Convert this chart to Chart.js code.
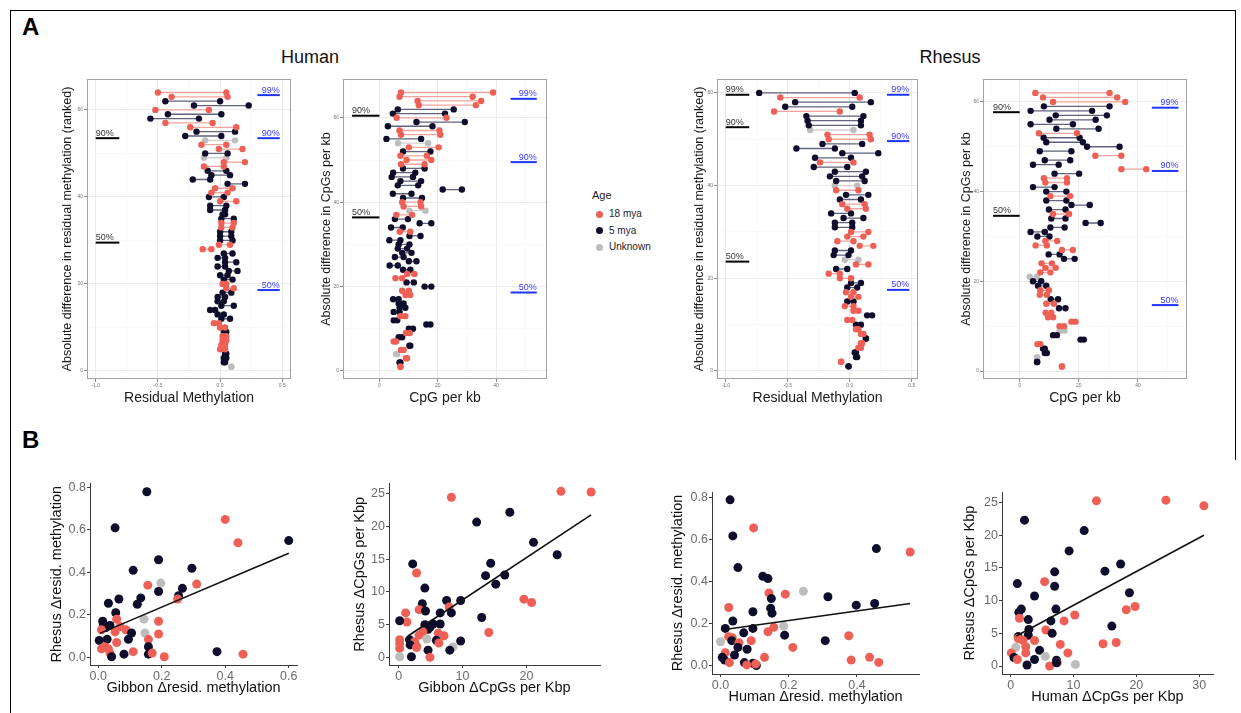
<!DOCTYPE html>
<html>
<head>
<meta charset="utf-8">
<script src="https://cdn.jsdelivr.net/npm/chart.js@4.4.1/dist/chart.umd.min.js"></script>
<style>
  body { margin: 0; background: #fff; font-family: "Liberation Sans", Arial, sans-serif; }
  #page { position: relative; width: 1241px; height: 713px; overflow: hidden; }
  canvas { position: absolute; }
  .frame { position: absolute; left: 10px; top: 10px; width: 1224px; height: 760px; border-top: 1.5px solid #000; border-left: 1.5px solid #000; }
  .frame-r { position: absolute; left: 1235px; top: 10px; width: 0; height: 450px; border-left: 1.5px solid #000; }
  .tag { position: absolute; font-weight: bold; font-size: 24px; line-height: 24px; }
  .head { position: absolute; font-size: 18px; line-height: 18px; transform: translateX(-50%); color: #111; }
  #legend { position: absolute; left: 592px; top: 188px; color: #222; }
  #legend .lt { font-size: 11px; line-height: 14px; margin-bottom: 4px; }
  #legend .li { font-size: 10px; height: 16.5px; line-height: 16.5px; display: flex; align-items: center; }
  #legend .dot { display: inline-block; width: 7px; height: 7px; border-radius: 50%; margin: 0 6px 0 4px; }
</style>
</head>
<body>
<div id="page">
  <div class="frame"></div>
  <div class="frame-r"></div>
  <div class="tag" style="left:22px;top:15px">A</div>
  <div class="tag" style="left:22px;top:428px">B</div>
  <div class="head" style="left:310px;top:48px">Human</div>
  <div class="head" style="left:950px;top:48px">Rhesus</div>
  <div id="legend"></div>

  <canvas id="a1" width="245" height="342" style="left:55px;top:70px"></canvas>
  <canvas id="a2" width="244" height="342" style="left:312px;top:70px"></canvas>
  <canvas id="a3" width="242" height="342" style="left:685px;top:70px"></canvas>
  <canvas id="a4" width="244" height="342" style="left:952px;top:70px"></canvas>

  <canvas id="b1" width="270" height="225" style="left:35px;top:475px"></canvas>
  <canvas id="b2" width="280" height="225" style="left:330px;top:475px"></canvas>
  <canvas id="b3" width="280" height="233" style="left:650px;top:480px"></canvas>
  <canvas id="b4" width="295" height="233" style="left:940px;top:480px"></canvas>
</div>
<script>
// age groups: 0 = 18 mya, 1 = 5 mya, 2 = Unknown
const ageNames = ['18 mya', '5 mya', 'Unknown'];
const ageDot = ['#ee6055', '#0e0e2c', '#bdbdbd'];
const ageBar = ['#f3a39b', '#5f637c', '#d2d2d2'];

// ---- Panel A: ranked pairs, rank 1 = bottom row ----
// Human, residual methylation
const humMethLo = [0.09,0.03,0.03,0.04,0.00,0.01,0.02,0.02,0.03,0.00,
  -0.05,0.01,-0.02,-0.08,0.01,-0.02,-0.02,0.02,0.05,0.02,
  0.03,0.00,0.07,-0.02,0.04,-0.02,0.03,-0.14,-0.01,0.00,
  0.00,0.00,0.01,0.01,0.01,0.02,-0.08,-0.08,0.00,-0.09,
  -0.07,-0.04,0.06,-0.22,-0.07,-0.10,-0.13,0.03,-0.13,-0.12,
  -0.01,-0.15,-0.12,-0.28,-0.19,-0.24,-0.44,-0.56,-0.42,-0.52,
  -0.21,-0.44,-0.39,-0.50];
const humMethHi = [0.09,0.04,0.05,0.05,0.04,0.04,0.05,0.05,0.05,0.04,
  -0.01,0.08,0.03,-0.04,0.11,0.03,0.04,0.09,0.11,0.05,
  0.10,0.06,0.14,0.04,0.13,0.04,0.10,-0.07,0.08,0.10,
  0.09,0.09,0.10,0.11,0.11,0.04,0.04,0.05,0.13,0.03,
  0.06,0.10,0.20,-0.08,0.08,0.05,0.03,0.20,0.05,0.06,
  0.18,0.05,0.12,0.01,0.12,0.13,-0.06,-0.17,0.01,-0.09,
  0.23,0.00,0.06,0.05];
const humMethAge = [2,1,1,1,0,0,0,0,1,0, 0,1,1,1,1,1,1,1,0,0,
  1,1,1,1,1,1,1,0,0,1, 1,1,0,0,1,1,1,1,0,1,
  0,0,1,1,1,1,0,0,2,1, 0,0,2,1,1,0,0,1,1,0, 1,1,0,0];

// Human, CpG per kb
const humCpgLo = [7.2,6.9,9.1,5.7,7.4,10.3,4.9,6.6,9.1,10.1,
  16.1,4.9,7.2,4.9,6.9,6.6,4.7,8.9,7.8,15.5,
  9.3,5.5,9.5,8.1,3.5,10.1,5.3,7.8,6.3,6.6,
  3.4,10.3,7.0,4.0,13.8,5.3,5.8,10.3,8.3,7.8,
  8.1,4.6,21.7,6.3,7.2,4.2,4.7,8.1,7.4,9.3,
  7.2,8.1,10.1,6.4,2.4,7.4,6.9,2.9,12.7,5.9,
  4.6,6.3,13.5,13.1,6.9,7.4];
const humCpgHi = [7.2,7.2,9.5,6.1,8.3,10.6,5.7,7.8,10.4,11.5,
  17.5,6.1,8.9,6.9,8.9,8.3,6.6,10.6,10.1,17.8,
  11.8,7.8,12.0,10.6,6.3,12.7,8.3,11.0,9.5,10.3,
  7.2,14.1,10.6,8.0,17.8,9.8,11.2,15.8,14.3,14.1,
  14.6,11.0,28.3,13.3,14.3,11.5,12.3,15.5,15.5,17.8,
  16.3,17.5,20.3,16.7,14.3,20.9,20.6,18.2,29.3,23.0,
  22.5,25.5,33.1,34.9,32.0,39.0];
const humCpgAge = [0,1,0,2,0,1,0,1,0,1, 1,1,0,1,1,1,1,0,0,1,
  1,0,0,1,1,1,1,1,1,1, 1,1,0,1,1,1,0,2,0,0,
  1,1,1,1,1,1,1,1,0,0, 0,1,0,2,1,0,0,1,1,0, 1,1,0,0,0,0];

// Rhesus, residual methylation
const rheMethLo = [-0.01,-0.07,0.05,0.04,0.07,0.09,0.13,0.09,0.05,0.05,
  -0.02,0.14,0.03,-0.04,-0.02,0.01,-0.03,-0.02,0.01,-0.08,
  -0.17,-0.11,0.05,-0.04,-0.13,-0.12,0.08,-0.10,-0.02,0.01,
  -0.12,-0.12,-0.05,-0.15,-0.02,-0.06,-0.08,-0.03,-0.11,-0.12,
  -0.11,-0.16,-0.12,-0.29,-0.24,-0.28,-0.06,-0.43,-0.22,-0.17,
  -0.18,-0.32,-0.33,-0.34,-0.35,-0.61,-0.52,-0.44,-0.56,-0.73];
const rheMethHi = [-0.01,-0.07,0.06,0.05,0.09,0.10,0.13,0.11,0.07,0.09,
  0.02,0.18,0.07,0.03,0.03,0.07,0.03,0.06,0.09,0.01,
  -0.08,-0.02,0.15,0.07,-0.01,0.01,0.19,0.03,0.11,0.15,
  0.02,0.02,0.11,0.01,0.13,0.12,0.09,0.15,0.07,0.06,
  0.12,0.10,0.13,-0.02,0.03,0.01,0.23,-0.12,0.10,0.17,
  0.16,0.03,0.09,0.09,0.11,-0.08,0.02,0.17,0.08,0.04];
const rheMethAge = [1,0,1,1,0,0,1,0,0,1, 0,1,0,0,1,0,0,1,1,0,
  0,1,0,2,1,1,0,0,0,0, 1,1,1,1,0,0,1,1,0,2,
  1,1,1,1,0,1,1,1,1,0, 0,2,1,1,1,0,1,1,0,1];

// Rhesus, CpG per kb
const rheCpgLo = [14.3,5.9,5.9,8.5,7.9,6.0,20.6,11.3,13.5,13.5,
  17.5,9.6,8.8,13.3,9.0,10.5,6.8,7.0,6.2,4.5,
  3.4,7.0,8.7,7.4,15.0,9.8,14.3,5.4,8.7,6.0,
  3.7,10.4,22.3,10.7,11.3,9.9,17.5,9.0,10.4,9.0,
  4.5,8.7,8.2,11.8,34.4,4.5,8.5,25.6,6.8,22.8,
  9.0,8.1,6.5,12.4,3.7,10.1,12.2,3.7,8.2,11.3,
  7.9,5.3];
const rheCpgHi = [14.3,5.9,5.9,9.2,8.5,7.0,21.7,12.6,15.2,15.0,
  18.9,11.3,10.7,15.5,11.6,13.0,9.2,9.9,9.0,7.3,
  5.9,10.4,12.2,10.9,18.6,13.5,18.0,9.2,12.7,10.1,
  8.5,15.2,27.4,15.5,16.7,15.5,23.7,15.8,17.1,15.8,
  11.8,16.0,16.0,20.1,42.8,13.2,17.1,34.4,17.5,33.8,
  21.4,20.3,19.4,26.7,18.0,25.7,29.5,24.5,30.4,35.7,
  33.0,30.4];
const rheCpgAge = [0,1,2,1,1,0,1,1,2,0, 0,0,0,1,0,1,0,0,1,1,
  2,0,0,0,1,1,0,0,0,1, 1,1,1,1,0,1,1,1,0,1,
  1,0,0,1,0,1,1,0,1,1, 1,1,0,1,1,1,1,1,1,0, 0,0];

// percentile guide marks (label, rank)
const humMethBlackPct = ['90%', '50%'], humMethBlackY = [53.5, 29.5];
const humMethBluePct = ['99%', '90%', '50%'], humMethBlueY = [63.4, 53.5, 18.6];
const humCpgBlackPct = ['90%', '50%'], humCpgBlackY = [60.5, 36.4];
const humCpgBluePct = ['99%', '90%', '50%'], humCpgBlueY = [64.5, 49.5, 18.6];
const rheMethBlackPct = ['99%', '90%', '50%'], rheMethBlackY = [59.6, 52.6, 23.6];
const rheMethBluePct = ['99%', '90%', '50%'], rheMethBlueY = [59.6, 49.6, 17.5];
const rheCpgBlackPct = ['90%', '50%'], rheCpgBlackY = [57.7, 34.6];
const rheCpgBluePct = ['99%', '90%', '50%'], rheCpgBlueY = [58.7, 44.6, 14.7];
const methBlackSpan = [-1.0, -0.81], methBlueSpan = [0.30, 0.48];
const cpgBlackSpan = [-9.4, 0], cpgBlueSpan = [45, 54];

const methMajor = [-1.0, -0.5, 0.0, 0.5], methMinor = [-0.75, -0.25, 0.25];
const cpgMajor = [0, 20, 40], cpgMinor = [-10, 10, 30, 50];
const rankMajor = [0, 20, 40, 60], rankMinor = [10, 30, 50];

// ---- Panel B: pairwise differences ----
const b1x = [0.153,0.053,0.40,0.44,0.60,0.19,0.295,0.11,0.156,0.197,0.31,0.265,0.134,0.065,0.19,0.253,0.25,0.123,0.032,0.055,
  0.058,0.144,0.19,0.014,0.016,0.024,0.01,0.037,0.069,0.087,0.053,0.105,0.147,0.19,0.158,0.095,0.003,0.028,0.058,0.02,
  0.032,0.158,0.110,0.374,0.158,0.17,0.081,0.037,0.042,0.208,0.456,0.01];
const b1y = [0.78,0.61,0.65,0.54,0.55,0.46,0.42,0.41,0.34,0.35,0.345,0.325,0.28,0.275,0.31,0.29,0.275,0.25,0.255,0.21,
  0.18,0.18,0.17,0.17,0.15,0.14,0.13,0.15,0.145,0.13,0.12,0.115,0.115,0.11,0.085,0.085,0.08,0.085,0.07,0.05,
  0.04,0.05,0.027,0.027,0.015,0.02,0.015,0.02,0.003,0.003,0.015,0.04];
const b1age = [1,1,0,0,1,1,1,1,0,2,0,1,1,1,1,1,0,1,1,1,0,2,0,1,1,1,0,1,0,0,0,1,2,0,0,1,1,1,0,0,0,1,0,1,1,0,1,0,1,0,0,0];
const b1fitX = [0.005, 0.60], b1fitY = [0.113, 0.49];

const b2x = [8.25,25.4,30.1,17.4,12.2,21.1,24.8,2.2,14.4,2.8, 13.6,16.6,15.2,4.1,7.5,9.7,3.7,19.6,20.8,7.9,
  13.0,3.2,4.2,6.5,8.25,1.1,1.3,0.16,4.1,5.4, 6.5,4.6,4.9,3.8,14.1,6.2,7.1,3.2,1.7,4.4,
  0.16,2.5,5.9,6.3,9.7,0.16,2.8,0.16,1.8,8.5, 8.0,4.6,2.0,4.9,0.16,2.8];
const b2y = [24.5,25.4,25.3,22.2,20.7,17.6,15.7,14.3,14.4,12.9, 12.5,12.6,11.2,10.6,8.7,8.7,8.2,8.9,8.4,7.7,
  6.1,7.3,7.1,6.8,6.8,6.8,5.4,5.6,5.0,5.1, 5.1,4.3,4.6,3.9,3.8,3.7,3.3,3.4,2.7,2.8,
  2.7,2.4,2.6,2.2,2.5,2.1,1.7,1.4,1.9,1.6, 1.1,1.1,0.1,0.0,0.1,1.5];
const b2age = [0,0,0,1,1,1,1,1,1,0, 1,1,1,1,1,1,1,0,0,0, 1,0,1,1,1,0,0,1,1,1,
  1,1,1,0,0,0,0,0,1,2, 0,0,1,0,1,0,0,0,1,2, 1,1,1,0,2,0];
const b2fitX = [1.46, 30.1], b2fitY = [3.27, 21.8];

const b3x = [0.028,0.036,0.097,0.051,0.457,0.556,0.124,0.139,0.142,0.149, 0.243,0.190,0.315,0.147,0.151,0.398,0.452,0.024,0.095,0.036,
  0.014,0.095,0.156,0.139,0.185,0.068,0.188,0.376,0.024,0.034, 0.0,0.033,0.307,0.054,0.051,0.09,0.212,0.078,0.014,0.041,
  0.005,0.129,0.437,0.012,0.383,0.464,0.026,0.070,0.095,0.077, 0.105,0.103];
const b3y = [0.787,0.616,0.654,0.466,0.556,0.54,0.425,0.414,0.346,0.319, 0.354,0.340,0.328,0.274,0.25,0.288,0.296,0.277,0.257,0.213,
  0.178,0.178,0.183,0.162,0.189,0.157,0.146,0.143,0.139,0.134, 0.115,0.12,0.12,0.11,0.088,0.12,0.088,0.079,0.063,0.052,
  0.041,0.041,0.041,0.028,0.028,0.017,0.016,0.016,0.013,0.005, 0.002,0.009];
const b3age = [1,1,0,1,1,0,1,1,0,1, 2,0,1,1,1,1,1,0,1,1, 1,1,0,0,2,1,1,0,0,0,
  2,1,1,0,1,0,0,1,0,1, 1,0,0,1,0,0,0,1,1,0, 1,0];
const b3fitX = [0.012, 0.556], b3fitY = [0.173, 0.296];

const b4x = [13.65,24.7,30.75,2.2,11.7,9.3,17.5,15.0,7.0,5.4, 1.06,7.0,18.9,3.8,19.8,18.4,1.7,7.2,1.3,10.2,
  1.4,2.8,6.4,8.5,16.1,2.9,5.6,6.6,2.8,1.2, 1.2,1.96,3.8,14.7,16.8,7.9,4.6,0.8,2.4,9.1,
  2.4,0.1,5.5,0.53,1.06,3.8,7.3,7.4,2.6,6.2, 10.3,7.3];
const b4y = [25.25,25.35,24.5,22.3,20.7,17.6,15.6,14.5,14.4,12.9, 12.6,12.2,11.2,10.7,9.1,8.6,8.7,8.7,8.2,7.8,
  7.3,7.1,6.9,6.9,6.1,5.6,5.5,5.0,4.7,4.5, 4.2,3.9,3.9,3.4,3.6,3.3,2.4,2.85,2.95,2.0,
  2.0,2.0,1.5,1.3,1.0,1.0,0.9,0.5,0.15,0.0, 0.25,0.5];
const b4age = [0,0,0,1,1,1,1,1,1,0, 1,1,1,1,0,0,1,1,1,0, 0,1,1,0,1,1,0,1,1,1,
  0,0,0,0,0,0,1,2,0,0, 0,0,2,1,0,1,1,0,1,0, 2,1];
const b4fitX = [0.9, 30.75], b4fitY = [4.6, 20.0];

Chart.defaults.font.family = '"Liberation Sans", Arial, sans-serif';

// legend
document.getElementById('legend').innerHTML = '<div class="lt">Age</div>' +
  ageNames.map((n, k) => `<div class="li"><span class="dot" style="background:${ageDot[k]}"></span>${n}</div>`).join('');

// grey frame around a ggplot panel
const panelBox = {
  id: 'panelBox',
  afterDatasetsDraw(chart, args, opts) {
    if (!opts.color) return;
    const a = chart.chartArea, ctx = chart.ctx;
    ctx.save();
    ctx.strokeStyle = opts.color;
    ctx.lineWidth = 1;
    ctx.strokeRect(a.left + 0.5, a.top + 0.5, a.width - 1, a.height - 1);
    ctx.restore();
  }
};

// text above the percentile guide marks
const refLabels = {
  id: 'refLabels',
  afterDatasetsDraw(chart) {
    const { ctx, scales: { x, y } } = chart;
    chart.data.datasets.forEach(ds => {
      if (!ds.refLabel) return;
      const p = ds.refSide === 'left' ? ds.data[0] : ds.data[1];
      ctx.save();
      ctx.font = '9px "Liberation Sans", Arial, sans-serif';
      ctx.fillStyle = ds.refText;
      ctx.textAlign = ds.refSide;
      ctx.textBaseline = 'bottom';
      ctx.fillText(ds.refLabel, x.getPixelForValue(p.x), y.getPixelForValue(p.y) - 0.5);
      ctx.restore();
    });
  }
};

function dumbbellSets(lo, hi, age) {
  const sets = [];
  ageNames.forEach((name, k) => {
    const seg = [], pts = [];
    lo.forEach((v, i) => {
      if (age[i] !== k) return;
      seg.push({ x: v, y: i + 1 }, { x: hi[i], y: i + 1 }, { x: null, y: null });
      pts.push({ x: v, y: i + 1 }, { x: hi[i], y: i + 1 });
    });
    sets.push({ data: seg, showLine: true, spanGaps: false, borderColor: ageBar[k], borderWidth: 1.3, pointRadius: 0, order: 3 });
    sets.push({ data: pts, pointRadius: 3.2, pointBackgroundColor: ageDot[k], pointBorderWidth: 0, order: 1 });
  });
  return sets;
}

function refSets(pct, ys, span, line, text, side) {
  return pct.map((p, i) => ({
    data: [{ x: span[0], y: ys[i] }, { x: span[1], y: ys[i] }],
    showLine: true, borderColor: line, borderWidth: 2, pointRadius: 0, order: 0,
    refLabel: p, refSide: side, refText: text
  }));
}

function gridAxis(min, max, major, minor, fmt, title, isX, size, titlePad) {
  const all = major.concat(minor).sort((a, b) => a - b);
  const isMinor = v => !major.includes(v);
  return {
    type: 'linear', min, max,
    afterBuildTicks: sc => { sc.ticks = all.map(v => ({ value: v })); },
    afterFit: sc => { if (isX) sc.height = size; else sc.width = size; },
    border: { display: false },
    grid: {
      color: c => (c.tick && isMinor(c.tick.value)) ? '#f5f5f5' : '#ebebeb',
      lineWidth: c => (c.tick && isMinor(c.tick.value)) ? 0.6 : 1,
      tickColor: c => (c.tick && isMinor(c.tick.value)) ? 'rgba(0,0,0,0)' : '#8c8c8c',
      tickLength: 3
    },
    ticks: { autoSkip: false, maxRotation: 0, padding: 1, color: '#707070', font: { size: 5 },
      callback: v => isMinor(v) ? '' : fmt(v) },
    title: { display: true, text: title, color: '#1a1a1a', font: { size: isX ? 14 : 12.5 },
      padding: isX ? { top: 0, bottom: titlePad } : { top: titlePad, bottom: 0 } }
  };
}

function dumbbellChart(id, s) {
  const datasets = [
    ...dumbbellSets(s.lo, s.hi, s.age),
    ...refSets(s.blackPct, s.blackY, s.blackSpan, '#000', '#333', 'left'),
    ...refSets(s.bluePct, s.blueY, s.blueSpan, '#1f35ff', '#3a3aff', 'right')
  ];
  new Chart(document.getElementById(id), {
    type: 'scatter',
    data: { datasets },
    options: {
      responsive: false, animation: false, events: [],
      layout: { padding: { left: 0, top: 9, right: 9, bottom: 0 } },
      plugins: { legend: { display: false }, tooltip: { enabled: false }, panelBox: { color: '#a3a3a3' } },
      scales: {
        x: gridAxis(s.xMin, s.xMax, s.xMajor, s.xMinor, s.fmt, s.xTitle, true, 33, 5.6),
        y: gridAxis(s.yMin, s.yMax, rankMajor, rankMinor, v => String(v), s.yTitle, false, s.left, s.yPad)
      }
    },
    plugins: [panelBox, refLabels]
  });
}

const fmt1 = v => v.toFixed(1);
const methTitle = 'Absolute difference in residual methylation (ranked)';
const cpgTitle = 'Absolute difference in CpGs per kb';

dumbbellChart('a1', { lo: humMethLo, hi: humMethHi, age: humMethAge,
  blackPct: humMethBlackPct, blackY: humMethBlackY, bluePct: humMethBluePct, blueY: humMethBlueY,
  blackSpan: methBlackSpan, blueSpan: methBlueSpan,
  xMin: -1.07, xMax: 0.57, yMin: -1.84, yMax: 67.1, xMajor: methMajor, xMinor: methMinor, fmt: fmt1,
  xTitle: 'Residual Methylation', yTitle: methTitle, left: 32, yPad: 5.5 });

dumbbellChart('a2', { lo: humCpgLo, hi: humCpgHi, age: humCpgAge,
  blackPct: humCpgBlackPct, blackY: humCpgBlackY, bluePct: humCpgBluePct, blueY: humCpgBlueY,
  blackSpan: cpgBlackSpan, blueSpan: cpgBlueSpan,
  xMin: -12.5, xMax: 57.5, yMin: -1.9, yMax: 69.2, xMajor: cpgMajor, xMinor: cpgMinor, fmt: v => String(v),
  xTitle: 'CpG per kb', yTitle: cpgTitle, left: 31, yPad: 7.5 });

dumbbellChart('a3', { lo: rheMethLo, hi: rheMethHi, age: rheMethAge,
  blackPct: rheMethBlackPct, blackY: rheMethBlackY, bluePct: rheMethBluePct, blueY: rheMethBlueY,
  blackSpan: methBlackSpan, blueSpan: methBlueSpan,
  xMin: -1.07, xMax: 0.55, yMin: -1.73, yMax: 63.0, xMajor: methMajor, xMinor: methMinor, fmt: fmt1,
  xTitle: 'Residual Methylation', yTitle: methTitle, left: 32, yPad: 7.5 });

dumbbellChart('a4', { lo: rheCpgLo, hi: rheCpgHi, age: rheCpgAge,
  blackPct: rheCpgBlackPct, blackY: rheCpgBlackY, bluePct: rheCpgBluePct, blueY: rheCpgBlueY,
  blackSpan: [-9, 0], blueSpan: [44.7, 53.7],
  xMin: -12.4, xMax: 56.6, yMin: -1.78, yMax: 65.1, xMajor: cpgMajor, xMinor: cpgMinor, fmt: v => String(v),
  xTitle: 'CpG per kb', yTitle: cpgTitle, left: 31, yPad: 7.5 });

function plainAxis(min, max, ticks, fmt, title, isX, size, titlePad) {
  return {
    type: 'linear', min, max,
    afterBuildTicks: sc => { sc.ticks = ticks.map(v => ({ value: v })); },
    afterFit: sc => { if (isX) sc.height = size; else sc.width = size; },
    border: { display: true, color: '#3a3a3a', width: 1 },
    grid: { drawOnChartArea: false, tickLength: 3, tickColor: '#3a3a3a' },
    ticks: { autoSkip: false, maxRotation: 0, padding: 1, color: '#6b6b6b', font: { size: 12.5 }, callback: fmt },
    title: { display: true, text: title, color: '#111', font: { size: 14.5 },
      padding: isX ? { top: 0, bottom: titlePad } : { top: titlePad, bottom: 0 } }
  };
}

function scatterChart(id, s) {
  new Chart(document.getElementById(id), {
    type: 'scatter',
    data: {
      datasets: [
        { data: s.fx.map((x, i) => ({ x, y: s.fy[i] })), showLine: true, borderColor: '#111', borderWidth: 1.6, pointRadius: 0, order: 0 },
        { data: s.x.map((x, i) => ({ x, y: s.y[i] })), pointRadius: 4.5, pointBorderWidth: 0,
          pointBackgroundColor: s.age.map(a => ageDot[a]), order: 1 }
      ]
    },
    options: {
      responsive: false, animation: false, events: [],
      layout: { padding: { left: 0, top: s.top, right: s.right, bottom: 0 } },
      plugins: { legend: { display: false }, tooltip: { enabled: false } },
      scales: {
        x: plainAxis(s.xMin, s.xMax, s.xTicks, s.xFmt, s.xTitle, true, s.bottom, s.xPad),
        y: plainAxis(s.yMin, s.yMax, s.yTicks, s.yFmt, s.yTitle, false, s.left, s.yPad)
      }
    }
  });
}

const methTicks = [0, 0.2, 0.4, 0.6, 0.8];
const cpgTicks = [0, 5, 10, 15, 20, 25];

scatterChart('b1', { x: b1x, y: b1y, age: b1age, fx: b1fitX, fy: b1fitY,
  xMin: -0.026, xMax: 0.626, yMin: -0.036, yMax: 0.819,
  xTicks: [0, 0.2, 0.4, 0.6], yTicks: methTicks, xFmt: fmt1, yFmt: fmt1,
  xTitle: 'Gibbon \u0394resid. methylation', yTitle: 'Rhesus \u0394resid. methylation',
  top: 8, right: 8, bottom: 35, left: 55, xPad: 3.6, yPad: 13.6 });

scatterChart('b2', { x: b2x, y: b2y, age: b2age, fx: b2fitX, fy: b2fitY,
  xMin: -1.51, xMax: 31.5, yMin: -1.17, yMax: 26.6,
  xTicks: [0, 10, 20], yTicks: cpgTicks, xFmt: v => String(v), yFmt: v => String(v),
  xTitle: 'Gibbon \u0394CpGs per Kbp', yTitle: 'Rhesus \u0394CpGs per Kbp',
  top: 8, right: 10, bottom: 35, left: 59, xPad: 3.6, yPad: 21.6 });

scatterChart('b3', { x: b3x, y: b3y, age: b3age, fx: b3fitX, fy: b3fitY,
  xMin: -0.025, xMax: 0.582, yMin: -0.038, yMax: 0.824,
  xTicks: [0, 0.2, 0.4], yTicks: methTicks, xFmt: fmt1, yFmt: fmt1,
  xTitle: 'Human \u0394resid. methylation', yTitle: 'Rhesus \u0394resid. methylation',
  top: 12, right: 11, bottom: 39, left: 62, xPad: 7.6, yPad: 19.6 });

scatterChart('b4', { x: b4x, y: b4y, age: b4age, fx: b4fitX, fy: b4fitY,
  xMin: -1.38, xMax: 32.2, yMin: -1.22, yMax: 26.6,
  xTicks: [0, 10, 20, 30], yTicks: cpgTicks, xFmt: v => String(v), yFmt: v => String(v),
  xTitle: 'Human \u0394CpGs per Kbp', yTitle: 'Rhesus \u0394CpGs per Kbp',
  top: 12, right: 22, bottom: 39, left: 62, xPad: 7.6, yPad: 21.6 });
</script>
</body>
</html>
